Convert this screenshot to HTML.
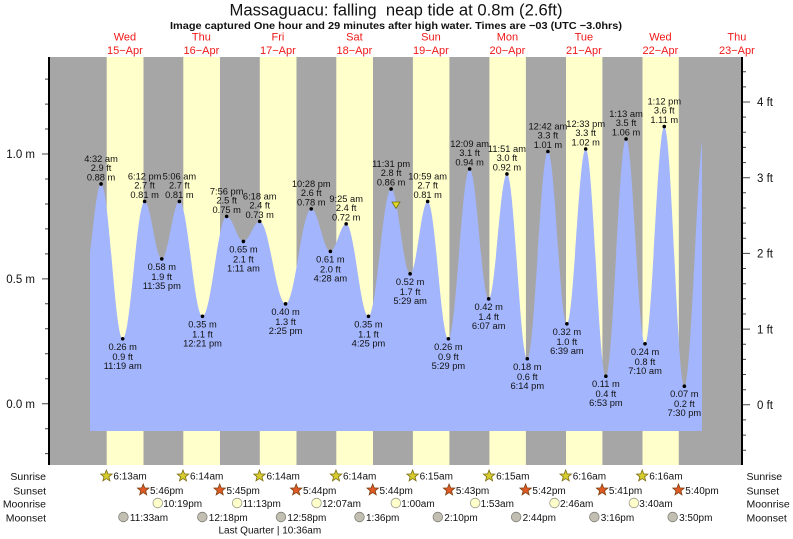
<!DOCTYPE html>
<html><head><meta charset="utf-8"><style>html,body{margin:0;padding:0;background:#fff}svg{display:block}</style></head>
<body>
<svg width="793" height="539" viewBox="0 0 793 539" xmlns="http://www.w3.org/2000/svg" font-family="'Liberation Sans', Arial, sans-serif">
<defs>
<clipPath id="cp"><rect x="90" y="50" width="612" height="381"/></clipPath>
<path id="star" d="M0,-6 L1.528,-2.103 L5.706,-1.854 L2.473,0.803 L3.527,4.854 L0,2.6 L-3.527,4.854 L-2.473,0.803 L-5.706,-1.854 L-1.528,-2.103 Z"/>
</defs>
<rect width="793" height="539" fill="#fff"/>
<!-- title -->
<text x="396" y="15.5" font-size="16.6" text-anchor="middle" textLength="333" lengthAdjust="spacingAndGlyphs" fill="#111">Massaguacu: falling&#160; neap tide at 0.8m (2.6ft)</text>
<text x="396" y="29" font-size="10.5" font-weight="bold" text-anchor="middle" textLength="452" lengthAdjust="spacingAndGlyphs" fill="#111">Image captured One hour and 29 minutes after high water. Times are −03 (UTC −3.0hrs)</text>
<!-- day labels -->
<g font-size="11" fill="#f01818" text-anchor="middle">
<text x="124.9" y="40.5">Wed</text><text x="124.9" y="54">15−Apr</text>
<text x="201.4" y="40.5">Thu</text><text x="201.4" y="54">16−Apr</text>
<text x="277.9" y="40.5">Fri</text><text x="277.9" y="54">17−Apr</text>
<text x="354.4" y="40.5">Sat</text><text x="354.4" y="54">18−Apr</text>
<text x="430.9" y="40.5">Sun</text><text x="430.9" y="54">19−Apr</text>
<text x="507.4" y="40.5">Mon</text><text x="507.4" y="54">20−Apr</text>
<text x="583.9" y="40.5">Tue</text><text x="583.9" y="54">21−Apr</text>
<text x="660.4" y="40.5">Wed</text><text x="660.4" y="54">22−Apr</text>
<text x="736.9" y="40.5">Thu</text><text x="736.9" y="54">23−Apr</text>
</g>
<!-- background bands -->
<rect x="50" y="57" width="692" height="408" fill="#a6a6a6"/>
<g fill="#ffffcc">
<rect x="106.7" y="57" width="36.8" height="408"/>
<rect x="183.3" y="57" width="36.7" height="408"/>
<rect x="259.8" y="57" width="36.7" height="408"/>
<rect x="336.3" y="57" width="36.7" height="408"/>
<rect x="412.9" y="57" width="36.5" height="408"/>
<rect x="489.4" y="57" width="36.5" height="408"/>
<rect x="566.0" y="57" width="36.4" height="408"/>
<rect x="642.5" y="57" width="36.3" height="408"/>
</g>
<!-- tide -->
<path clip-path="url(#cp)" fill="#a3b5fd" d="M83.41,283.84
C89.83,283.84 94.63,183.96 101.05,183.96
C108.92,183.96 114.81,338.78 122.68,338.78
C130.67,338.78 136.63,201.44 144.62,201.44
C150.87,201.44 155.53,258.87 161.78,258.87
C168.18,258.87 172.97,201.44 179.37,201.44
C187.78,201.44 194.07,316.30 202.48,316.30
C211.28,316.30 217.86,216.42 226.66,216.42
C232.75,216.42 237.31,241.39 243.40,241.39
C249.34,241.39 253.77,221.42 259.71,221.42
C269.13,221.42 276.17,303.82 285.59,303.82
C294.93,303.82 301.91,208.93 311.25,208.93
C318.21,208.93 323.42,251.38 330.38,251.38
C336.12,251.38 340.42,223.92 346.16,223.92
C354.28,223.92 360.35,316.30 368.47,316.30
C376.71,316.30 382.87,188.96 391.11,188.96
C398.03,188.96 403.21,273.86 410.13,273.86
C416.51,273.86 421.28,201.44 427.66,201.44
C435.20,201.44 440.84,338.78 448.38,338.78
C456.12,338.78 461.90,168.98 469.64,168.98
C476.56,168.98 481.74,298.83 488.66,298.83
C495.31,298.83 500.29,173.98 506.94,173.98
C514.35,173.98 519.88,358.75 527.29,358.75
C534.79,358.75 540.40,151.50 547.90,151.50
C554.81,151.50 559.96,323.80 566.87,323.80
C573.72,323.80 578.83,149.01 585.68,149.01
C593.03,149.01 598.52,376.23 605.87,376.23
C613.22,376.23 618.71,139.02 626.06,139.02
C632.97,139.02 638.12,343.77 645.03,343.77
C652.03,343.77 657.27,126.53 664.27,126.53
C671.58,126.53 677.04,386.22 684.35,386.22
C691.89,386.22 697.53,126.53 705.07,126.53
L705.07,431 L83.41,431 Z"/>
<!-- current marker -->
<polygon points="392,202 400,202 396,208.5" fill="#e2da22" stroke="#707010" stroke-width="0.8"/>
<!-- dots -->
<g fill="#000">
<circle cx="101.05" cy="183.96" r="1.8"/><circle cx="122.68" cy="338.78" r="1.8"/><circle cx="144.62" cy="201.44" r="1.8"/><circle cx="161.78" cy="258.87" r="1.8"/><circle cx="179.37" cy="201.44" r="1.8"/><circle cx="202.48" cy="316.30" r="1.8"/><circle cx="226.66" cy="216.42" r="1.8"/><circle cx="243.40" cy="241.39" r="1.8"/><circle cx="259.71" cy="221.42" r="1.8"/><circle cx="285.59" cy="303.82" r="1.8"/><circle cx="311.25" cy="208.93" r="1.8"/><circle cx="330.38" cy="251.38" r="1.8"/><circle cx="346.16" cy="223.92" r="1.8"/><circle cx="368.47" cy="316.30" r="1.8"/><circle cx="391.11" cy="188.96" r="1.8"/><circle cx="410.13" cy="273.86" r="1.8"/><circle cx="427.66" cy="201.44" r="1.8"/><circle cx="448.38" cy="338.78" r="1.8"/><circle cx="469.64" cy="168.98" r="1.8"/><circle cx="488.66" cy="298.83" r="1.8"/><circle cx="506.94" cy="173.98" r="1.8"/><circle cx="527.29" cy="358.75" r="1.8"/><circle cx="547.90" cy="151.50" r="1.8"/><circle cx="566.87" cy="323.80" r="1.8"/><circle cx="585.68" cy="149.01" r="1.8"/><circle cx="605.87" cy="376.23" r="1.8"/><circle cx="626.06" cy="139.02" r="1.8"/><circle cx="645.03" cy="343.77" r="1.8"/><circle cx="664.27" cy="126.53" r="1.8"/><circle cx="684.35" cy="386.22" r="1.8"/>
</g>
<!-- tide labels -->
<g font-size="9.3" fill="#111" text-anchor="middle">
<text x="101.05" y="161.96">4:32 am</text><text x="101.05" y="171.16">2.9 ft</text><text x="101.05" y="180.46">0.88 m</text>
<text x="144.62" y="179.44">6:12 pm</text><text x="144.62" y="188.64">2.7 ft</text><text x="144.62" y="197.94">0.81 m</text>
<text x="179.37" y="179.44">5:06 am</text><text x="179.37" y="188.64">2.7 ft</text><text x="179.37" y="197.94">0.81 m</text>
<text x="226.66" y="194.42">7:56 pm</text><text x="226.66" y="203.62">2.5 ft</text><text x="226.66" y="212.92">0.75 m</text>
<text x="259.71" y="199.42">6:18 am</text><text x="259.71" y="208.62">2.4 ft</text><text x="259.71" y="217.92">0.73 m</text>
<text x="311.25" y="186.93">10:28 pm</text><text x="311.25" y="196.13">2.6 ft</text><text x="311.25" y="205.43">0.78 m</text>
<text x="346.16" y="201.92">9:25 am</text><text x="346.16" y="211.12">2.4 ft</text><text x="346.16" y="220.42">0.72 m</text>
<text x="391.11" y="166.96">11:31 pm</text><text x="391.11" y="176.16">2.8 ft</text><text x="391.11" y="185.46">0.86 m</text>
<text x="427.66" y="179.44">10:59 am</text><text x="427.66" y="188.64">2.7 ft</text><text x="427.66" y="197.94">0.81 m</text>
<text x="469.64" y="146.98">12:09 am</text><text x="469.64" y="156.18">3.1 ft</text><text x="469.64" y="165.48">0.94 m</text>
<text x="506.94" y="151.98">11:51 am</text><text x="506.94" y="161.18">3.0 ft</text><text x="506.94" y="170.48">0.92 m</text>
<text x="547.90" y="129.5">12:42 am</text><text x="547.90" y="138.7">3.3 ft</text><text x="547.90" y="148.0">1.01 m</text>
<text x="585.68" y="127.01">12:33 pm</text><text x="585.68" y="136.21">3.3 ft</text><text x="585.68" y="145.51">1.02 m</text>
<text x="626.06" y="117.02">1:13 am</text><text x="626.06" y="126.22">3.5 ft</text><text x="626.06" y="135.52">1.06 m</text>
<text x="664.27" y="104.53">1:12 pm</text><text x="664.27" y="113.73">3.6 ft</text><text x="664.27" y="123.03">1.11 m</text>

<text x="122.68" y="349.78">0.26 m</text><text x="122.68" y="359.78">0.9 ft</text><text x="122.68" y="368.78">11:19 am</text>
<text x="161.78" y="269.87">0.58 m</text><text x="161.78" y="279.87">1.9 ft</text><text x="161.78" y="288.87">11:35 pm</text>
<text x="202.48" y="327.3">0.35 m</text><text x="202.48" y="337.3">1.1 ft</text><text x="202.48" y="346.3">12:21 pm</text>
<text x="243.40" y="252.39">0.65 m</text><text x="243.40" y="262.39">2.1 ft</text><text x="243.40" y="271.39">1:11 am</text>
<text x="285.59" y="314.82">0.40 m</text><text x="285.59" y="324.82">1.3 ft</text><text x="285.59" y="333.82">2:25 pm</text>
<text x="330.38" y="262.38">0.61 m</text><text x="330.38" y="272.38">2.0 ft</text><text x="330.38" y="281.38">4:28 am</text>
<text x="368.47" y="327.3">0.35 m</text><text x="368.47" y="337.3">1.1 ft</text><text x="368.47" y="346.3">4:25 pm</text>
<text x="410.13" y="284.86">0.52 m</text><text x="410.13" y="294.86">1.7 ft</text><text x="410.13" y="303.86">5:29 am</text>
<text x="448.38" y="349.78">0.26 m</text><text x="448.38" y="359.78">0.9 ft</text><text x="448.38" y="368.78">5:29 pm</text>
<text x="488.66" y="309.83">0.42 m</text><text x="488.66" y="319.83">1.4 ft</text><text x="488.66" y="328.83">6:07 am</text>
<text x="527.29" y="369.75">0.18 m</text><text x="527.29" y="379.75">0.6 ft</text><text x="527.29" y="388.75">6:14 pm</text>
<text x="566.87" y="334.8">0.32 m</text><text x="566.87" y="344.8">1.0 ft</text><text x="566.87" y="353.8">6:39 am</text>
<text x="605.87" y="387.23">0.11 m</text><text x="605.87" y="397.23">0.4 ft</text><text x="605.87" y="406.23">6:53 pm</text>
<text x="645.03" y="354.77">0.24 m</text><text x="645.03" y="364.77">0.8 ft</text><text x="645.03" y="373.77">7:10 am</text>
<text x="684.35" y="397.22">0.07 m</text><text x="684.35" y="407.22">0.2 ft</text><text x="684.35" y="416.22">7:30 pm</text>
</g>
<!-- axes -->
<line x1="49" y1="57" x2="49" y2="465" stroke="#000" stroke-width="2"/>
<line x1="742" y1="57" x2="742" y2="465" stroke="#000" stroke-width="2"/>
<path stroke="#444" stroke-width="1" fill="none" d="
M42,403.7H48 M42,278.9H48 M42,154H48
M45,453.6H48 M45,428.7H48 M45,378.7H48 M45,353.8H48 M45,328.8H48 M45,303.8H48 M45,253.9H48 M45,228.9H48 M45,204H48 M45,179H48 M45,129H48 M45,104.1H48 M45,79.1H48
M743,404.8H750 M743,329.1H750 M743,253.4H750 M743,177.7H750 M743,102H750
M743,450.2H746 M743,435.1H746 M743,419.9H746 M743,389.7H746 M743,374.5H746 M743,359.4H746 M743,344.2H746 M743,314H746 M743,298.8H746 M743,283.7H746 M743,268.5H746 M743,238.3H746 M743,223.1H746 M743,208H746 M743,192.8H746 M743,162.6H746 M743,147.4H746 M743,132.3H746 M743,117.1H746 M743,86.9H746 M743,71.7H746"/>
<g font-size="11.5" fill="#111" text-anchor="end">
<text x="35" y="408">0.0 m</text><text x="35" y="283">0.5 m</text><text x="35" y="158">1.0 m</text>
</g>
<g font-size="11.5" fill="#111">
<text x="757" y="409">0 ft</text><text x="757" y="333.3">1 ft</text><text x="757" y="257.6">2 ft</text><text x="757" y="181.9">3 ft</text><text x="757" y="106.2">4 ft</text>
</g>
<!-- bottom rows -->
<g font-size="10.5" fill="#111">
<text x="46" y="480" text-anchor="end">Sunrise</text>
<text x="46" y="494.3" text-anchor="end">Sunset</text>
<text x="46" y="507.5" text-anchor="end">Moonrise</text>
<text x="46" y="521.7" text-anchor="end">Moonset</text>
<text x="746.5" y="480">Sunrise</text>
<text x="746.5" y="494.3">Sunset</text>
<text x="746.5" y="507.5">Moonrise</text>
<text x="746.5" y="521.7">Moonset</text>
</g>
<g fill="#d6cc2e" stroke="#7a6c14" stroke-width="0.8">
<use href="#star" x="106.4" y="476"/><use href="#star" x="183.0" y="476"/><use href="#star" x="259.5" y="476"/><use href="#star" x="336.0" y="476"/><use href="#star" x="412.6" y="476"/><use href="#star" x="489.1" y="476"/><use href="#star" x="565.7" y="476"/><use href="#star" x="642.2" y="476"/>
</g>
<g fill="#e05a26" stroke="#7a4010" stroke-width="0.8">
<use href="#star" x="143.2" y="490"/><use href="#star" x="219.7" y="490"/><use href="#star" x="296.2" y="490"/><use href="#star" x="372.7" y="490"/><use href="#star" x="449.1" y="490"/><use href="#star" x="525.6" y="490"/><use href="#star" x="602.1" y="490"/><use href="#star" x="678.5" y="490"/>
</g>
<g fill="#ffffcc" stroke="#9a9a8a" stroke-width="0.8">
<circle cx="157.75" cy="503" r="4.8"/><circle cx="237.13" cy="503" r="4.8"/><circle cx="316.51" cy="503" r="4.8"/><circle cx="395.84" cy="503" r="4.8"/><circle cx="475.17" cy="503" r="4.8"/><circle cx="554.5" cy="503" r="4.8"/><circle cx="633.88" cy="503" r="4.8"/>
</g>
<g fill="#c2beb2" stroke="#808078" stroke-width="0.8">
<circle cx="123.42" cy="517" r="4.8"/><circle cx="202.32" cy="517" r="4.8"/><circle cx="280.96" cy="517" r="4.8"/><circle cx="359.49" cy="517" r="4.8"/><circle cx="437.81" cy="517" r="4.8"/><circle cx="516.13" cy="517" r="4.8"/><circle cx="594.34" cy="517" r="4.8"/><circle cx="672.66" cy="517" r="4.8"/>
</g>
<g font-size="10" fill="#111">
<text x="113.4" y="479.6">6:13am</text><text x="190" y="479.6">6:14am</text><text x="266.5" y="479.6">6:14am</text><text x="343" y="479.6">6:14am</text><text x="419.6" y="479.6">6:15am</text><text x="496.1" y="479.6">6:15am</text><text x="572.7" y="479.6">6:16am</text><text x="649.2" y="479.6">6:16am</text>
<text x="150" y="494">5:46pm</text><text x="226.5" y="494">5:45pm</text><text x="303" y="494">5:44pm</text><text x="379.5" y="494">5:44pm</text><text x="455.9" y="494">5:43pm</text><text x="532.4" y="494">5:42pm</text><text x="608.9" y="494">5:41pm</text><text x="685.3" y="494">5:40pm</text>
<text x="163.2" y="507">10:19pm</text><text x="242.6" y="507">11:13pm</text><text x="322" y="507">12:07am</text><text x="401.3" y="507">1:00am</text><text x="480.6" y="507">1:53am</text><text x="560" y="507">2:46am</text><text x="639.3" y="507">3:40am</text>
<text x="129.9" y="521">11:33am</text><text x="208.8" y="521">12:18pm</text><text x="287.4" y="521">12:58pm</text><text x="366" y="521">1:36pm</text><text x="444.3" y="521">2:10pm</text><text x="522.6" y="521">2:44pm</text><text x="600.8" y="521">3:16pm</text><text x="679.1" y="521">3:50pm</text>
<text x="218.5" y="533.5">Last Quarter | 10:36am</text>
</g>
</svg>
</body></html>
